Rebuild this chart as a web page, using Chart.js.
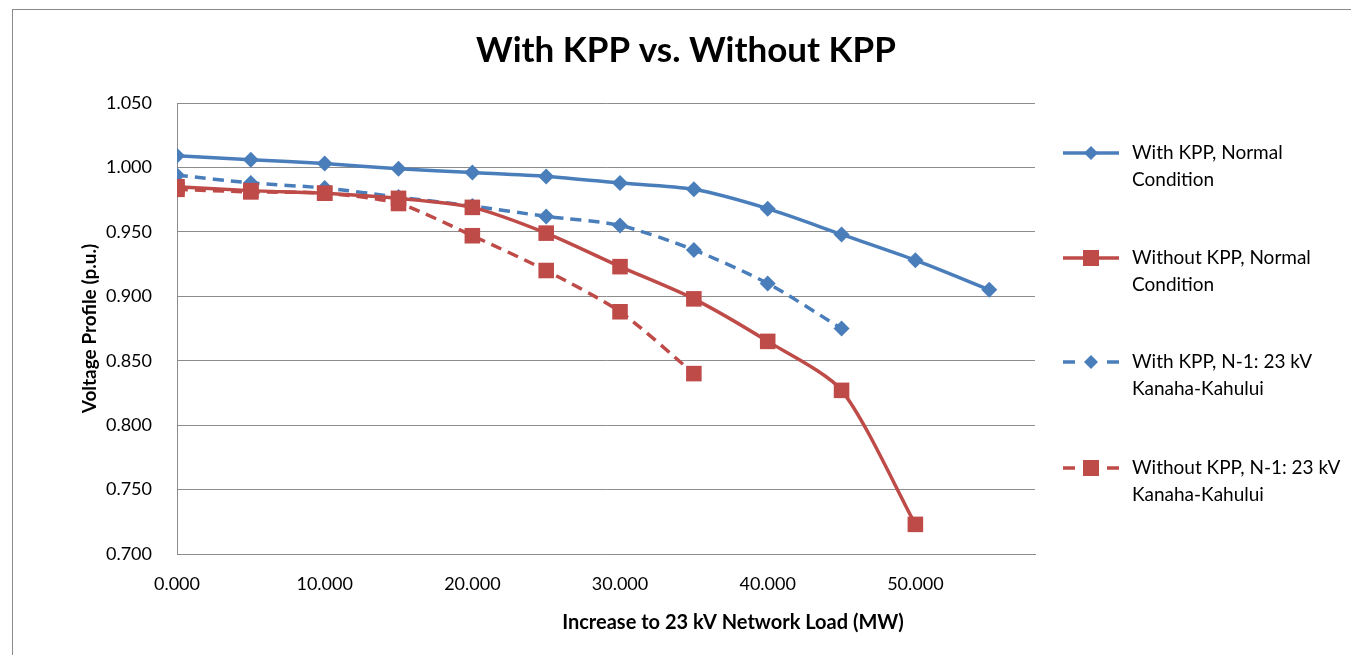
<!DOCTYPE html>
<html>
<head>
<meta charset="utf-8">
<title>With KPP vs. Without KPP</title>
<script src="https://cdn.jsdelivr.net/npm/chart.js@4"></script>
<style>
  html, body { margin: 0; padding: 0; background: #fff; }
  #can { display: block; }
</style>
</head>
<body>
<canvas id="can" width="1351" height="655"></canvas>
<script>
// load steps (MW)
const loadMW = [0, 5, 10, 15, 20, 25, 30, 35, 40, 45, 50, 55]

// voltage profile (p.u.) per case
const withKppNormal    = [1.009, 1.006, 1.003, 0.999, 0.996, 0.993, 0.988, 0.983, 0.968, 0.948, 0.928, 0.905]
const withoutKppNormal = [0.985, 0.982, 0.980, 0.976, 0.969, 0.949, 0.923, 0.898, 0.865, 0.827, 0.723]
const withKppN1        = [0.994, 0.988, 0.984, 0.977, 0.970, 0.962, 0.955, 0.936, 0.910, 0.875]
const withoutKppN1     = [0.983, 0.981, 0.980, 0.972, 0.947, 0.920, 0.888, 0.840]

const legendText = [
    ["With KPP, Normal", "Condition"],
    ["Without KPP, Normal", "Condition"],
    ["With KPP, N-1: 23 kV", "Kanaha-Kahului"],
    ["Without KPP, N-1: 23 kV", "Kanaha-Kahului"]
]

const blue = '#4a7ebb'
const red = '#be4b48'
const gridGray = '#8c8c8c'
const font = 'Lato, "Open Sans", sans-serif'

function toPoints(vals) {
    let pts = []
    for (let i = 0; i < vals.length; i++) {
        pts[i] = { x: loadMW[i], y: vals[i] }
    }
    return pts
}

function serija(label, vals, color, shape, dashed) {
    return {
        label: label,
        data: toPoints(vals),
        borderColor: color,
        backgroundColor: color,
        borderWidth: 3.5,
        borderDash: dashed ? [11, 7] : [],
        pointStyle: shape,
        pointRadius: shape == 'rect' ? 11 : 8,
        pointBorderWidth: 0,
        tension: 0.25
    }
}

// frame round the chart, like the Excel chart area
const okvir = {
    id: 'okvir',
    beforeDraw(chart) {
        const ctx = chart.ctx
        ctx.save()
        ctx.fillStyle = '#fff'
        ctx.fillRect(0, 0, chart.width, chart.height)
        ctx.strokeStyle = '#8a8a8a'
        ctx.lineWidth = 1
        ctx.strokeRect(12.5, 9.5, chart.width + 20, chart.height + 20)
        ctx.restore()
    }
}

// title, x axis title (Excel puts them off-centre) and the legend on the right
const legenda = {
    id: 'legenda',
    afterDraw(chart) {
        const ctx = chart.ctx
        ctx.save()
        ctx.fillStyle = '#000'
        ctx.textAlign = 'center'
        ctx.textBaseline = 'middle'
        ctx.font = 'bold 35px ' + font
        ctx.fillText('With KPP vs. Without KPP', 686, 51)
        ctx.font = 'bold 20px ' + font
        ctx.fillText('Increase to 23 kV Network Load (MW)', 733, 623)

        const rows = [153, 258, 362, 468]
        chart.data.datasets.forEach((ds, i) => {
            const y = rows[i]
            ctx.strokeStyle = ds.borderColor
            ctx.fillStyle = ds.borderColor
            ctx.lineWidth = 3.5
            ctx.beginPath()
            if (ds.borderDash.length) {
                ctx.moveTo(1063, y); ctx.lineTo(1075, y)
                ctx.moveTo(1107, y); ctx.lineTo(1119, y)
            } else {
                ctx.moveTo(1063, y); ctx.lineTo(1119, y)
            }
            ctx.stroke()
            ctx.beginPath()
            if (ds.pointStyle == 'rect') {
                ctx.rect(1083, y - 8, 16, 16)
            } else {
                ctx.moveTo(1091, y - 7); ctx.lineTo(1098, y)
                ctx.lineTo(1091, y + 7); ctx.lineTo(1084, y)
                ctx.closePath()
            }
            ctx.fill()

            ctx.fillStyle = '#000'
            ctx.font = '19px ' + font
            ctx.textAlign = 'left'
            ctx.fillText(legendText[i][0], 1132, y)
            ctx.fillText(legendText[i][1], 1132, y + 27)
        })
        ctx.restore()
    }
}

const config = {
    type: 'line',
    data: {
        datasets: [
            serija(legendText[0].join(' '), withKppNormal, blue, 'rectRot', false),
            serija(legendText[1].join(' '), withoutKppNormal, red, 'rect', false),
            serija(legendText[2].join(' '), withKppN1, blue, 'rectRot', true),
            serija(legendText[3].join(' '), withoutKppN1, red, 'rect', true)
        ]
    },
    options: {
        responsive: false,
        animation: false,
        layout: { padding: { left: 20, top: 103, right: 316, bottom: 0 } },
        plugins: {
            legend: { display: false },
            tooltip: { enabled: false },
            title: { display: false }
        },
        scales: {
            x: {
                type: 'linear',
                min: 0,
                max: 58.1,
                grid: { display: false, drawTicks: false },
                border: { color: gridGray, width: 1 },
                ticks: {
                    stepSize: 10,
                    includeBounds: false,
                    padding: 19,
                    color: '#000',
                    maxRotation: 0,
                    font: { family: font, size: 18 },
                    callback: v => v.toFixed(3)
                },
                afterFit: s => { s.height = 101 }
            },
            y: {
                min: 0.7,
                max: 1.05,
                grid: { color: gridGray, lineWidth: 1, drawTicks: false },
                border: { color: gridGray, width: 1 },
                ticks: {
                    stepSize: 0.05,
                    padding: 25,
                    color: '#000',
                    font: { family: font, size: 18 },
                    callback: v => v.toFixed(3)
                },
                title: {
                    display: true,
                    text: 'Voltage Profile (p.u.)',
                    color: '#000',
                    font: { family: font, size: 19, weight: 'bold' },
                    padding: { top: 58, bottom: 0 }
                },
                afterFit: s => { s.width = 157 }
            }
        }
    },
    plugins: [okvir, legenda]
}

window.onload = function () {
    new Chart(document.getElementById('can'), config)
}
</script>
</body>
</html>
